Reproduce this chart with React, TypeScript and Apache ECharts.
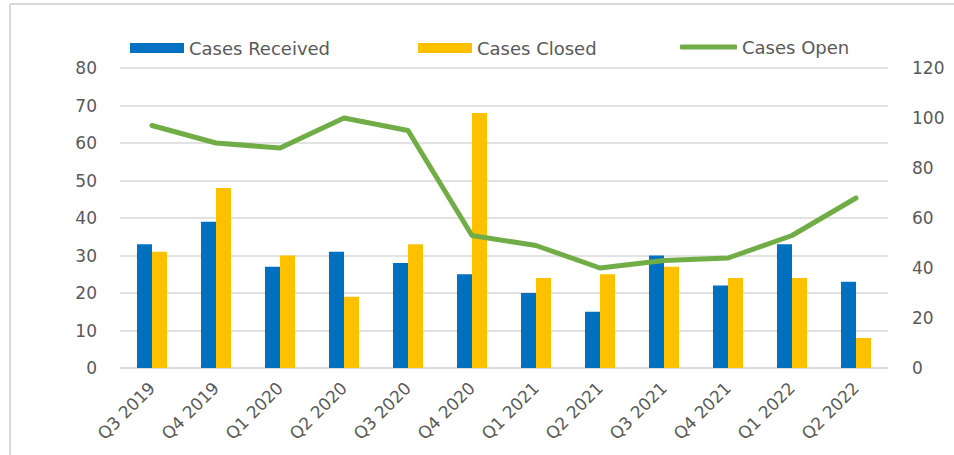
import React, { useEffect, useRef } from "react";
import * as echarts from "echarts";

const categories = ["Q3 2019", "Q4 2019", "Q1 2020", "Q2 2020", "Q3 2020", "Q4 2020", "Q1 2021", "Q2 2021", "Q3 2021", "Q4 2021", "Q1 2022", "Q2 2022"];
const casesReceived = [33, 39, 27, 31, 28, 25, 20, 15, 30, 22, 33, 23];
const casesClosed = [31, 48, 30, 19, 33, 68, 24, 25, 27, 24, 24, 8];
const casesOpen = [97, 90, 88, 100, 95, 53, 49, 40, 43, 44, 53, 68];

const FONT = "DejaVu Sans";
const TEXT_COLOR = "#595959";
const GRID_COLOR = "#D9D9D9";

export default function App() {
  const ref = useRef<HTMLDivElement>(null);
  useEffect(() => {
    if (!ref.current) return;
    const chart = echarts.init(ref.current, undefined, { renderer: "svg" });
    const legendText = { fontFamily: FONT, fontSize: 18, color: TEXT_COLOR };
    chart.setOption({
      animation: false,
      backgroundColor: "#ffffff",
      textStyle: { fontFamily: FONT },
      graphic: [
        { type: "line", shape: { x1: 10, y1: 4, x2: 954, y2: 4 }, style: { stroke: GRID_COLOR, lineWidth: 2 } },
        { type: "line", shape: { x1: 10, y1: 4, x2: 10, y2: 455 }, style: { stroke: GRID_COLOR, lineWidth: 2 } },
      ],
      legend: [
        { data: [{ name: "Cases Received", icon: "rect" }], left: 125, top: 34, itemWidth: 54, itemHeight: 10, textStyle: legendText },
        { data: [{ name: "Cases Closed", icon: "rect" }], left: 413, top: 34, itemWidth: 54, itemHeight: 10, textStyle: legendText },
        { data: [{ name: "Cases Open", icon: "roundRect" }], left: 675, top: 33, itemWidth: 57, itemHeight: 5, textStyle: legendText },
      ],
      grid: { left: 120, right: 66, top: 68, bottom: 87, containLabel: false },
      xAxis: {
        type: "category",
        data: categories,
        axisTick: { show: false },
        axisLine: { lineStyle: { color: GRID_COLOR, width: 1.5 } },
        axisLabel: { rotate: 45, fontSize: 17, fontFamily: FONT, color: TEXT_COLOR, margin: 17 },
      },
      yAxis: [
        {
          type: "value",
          min: 0,
          max: 80,
          interval: 10,
          axisLine: { show: false },
          axisTick: { show: false },
          splitLine: { lineStyle: { color: GRID_COLOR, width: 1.5 } },
          axisLabel: { fontSize: 17, fontFamily: FONT, color: TEXT_COLOR, margin: 23 },
        },
        {
          type: "value",
          min: 0,
          max: 120,
          interval: 20,
          axisLine: { show: false },
          axisTick: { show: false },
          splitLine: { show: false },
          axisLabel: { fontSize: 17, fontFamily: FONT, color: TEXT_COLOR, margin: 24 },
        },
      ],
      series: [
        {
          name: "Cases Received",
          type: "bar",
          data: casesReceived,
          itemStyle: { color: "#0070C0" },
          barGap: "0%",
          barCategoryGap: "53%",
        },
        {
          name: "Cases Closed",
          type: "bar",
          data: casesClosed,
          itemStyle: { color: "#FFC000" },
          barGap: "0%",
          barCategoryGap: "53%",
        },
        {
          name: "Cases Open",
          type: "line",
          yAxisIndex: 1,
          data: casesOpen,
          symbol: "none",
          lineStyle: { color: "#70AD47", width: 5, cap: "round", join: "round" },
          itemStyle: { color: "#70AD47" },
        },
      ],
    });
    return () => chart.dispose();
  }, []);
  return <div ref={ref} style={{ position: "fixed", left: 0, top: 0, width: 954, height: 455 }} />;
}
